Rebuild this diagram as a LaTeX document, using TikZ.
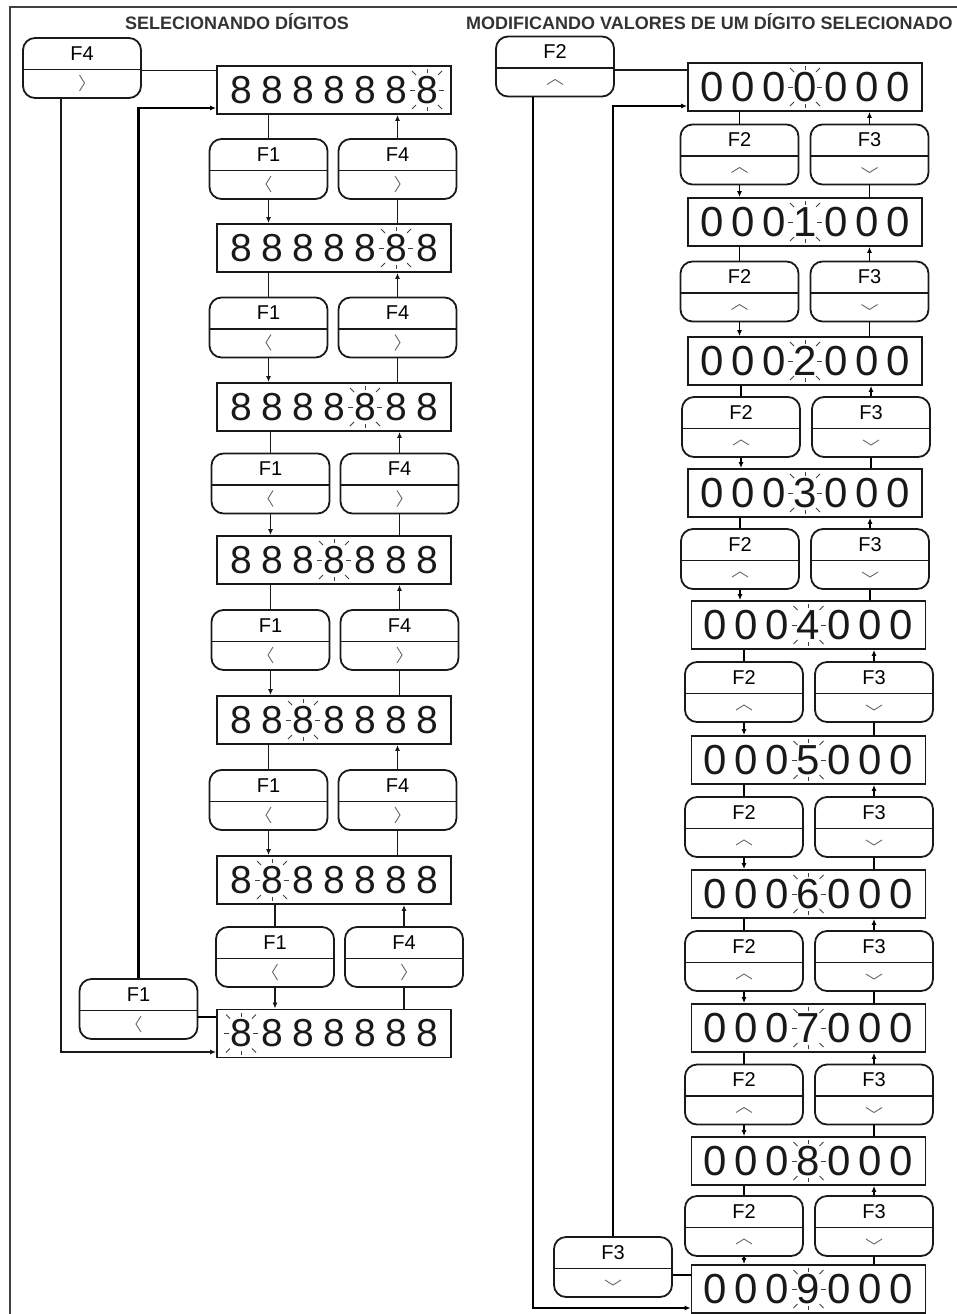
\documentclass[tikz,border=0pt]{standalone}
\usepackage{fontspec}
\setmainfont{Liberation Sans}
\usetikzlibrary{arrows.meta,calc}
\tikzset{
  disp/.style={draw=black!90, line width=1.8pt, minimum width=234pt, minimum height=48pt, inner sep=0pt},
  btn/.style={draw=black!90, line width=1.8pt, rounded corners=12pt, minimum width=118pt, minimum height=60pt, inner sep=0pt},
  lbl/.style={font=\fontsize{20}{20}\selectfont, inner sep=0pt, text=black},
  digL/.style={font=\fontsize{39}{39}\selectfont, inner sep=0pt, text=black!90},
  digR/.style={font=\fontsize{42}{42}\selectfont, inner sep=0pt, text=black!90},
  ln/.style={line width=1.3pt, draw=black!90},
  lnr/.style={line width=1.9pt, draw=black},
  thk/.style={line width=2.6pt, draw=black},
  arr/.style={-{Latex[length=6pt,width=5pt]}},
  chev/.style={line width=0.9pt, draw=black!60},
  ray/.style={line width=1pt, draw=black!75},
  ttl/.style={font=\bfseries\fontsize{18}{18}\selectfont, inner sep=0pt, text=black!80},
  pics/chevl/.style={code={\draw[chev] (2.5,-8) -- (-2.5,0) -- (2.5,8);}},
  pics/chevr/.style={code={\draw[chev] (-2.5,-8) -- (2.5,0) -- (-2.5,8);}},
  pics/chevu/.style={code={\draw[chev] (-8,3) -- (0,-2) -- (8,3);}},
  pics/chevd/.style={code={\draw[chev] (-8,-2) -- (0,3) -- (8,-2);}}
}
\newcommand\mybtn[5]{%
  \node[btn] (#1) at (#2,#3) {};
  \draw[ln] ([yshift=-1.5pt]#1.west) -- ([yshift=-1.5pt]#1.east);
  \node[lbl] (#1-t) at ([yshift=14.5pt]#1.center) {#4};
  \pic at ([yshift=-15pt]#1.center) {#5};
}
\newcommand\mydisp[6]{%
  \node[disp] (#1) at (#2,#3) {};
  \foreach \dg [count=\ii] in {#4} {\node[#6] (#1-\ii) at ($(#1.center)+({(\ii-4)*31},0)$) {\dg};}
  \foreach \sx/\sy/\dx/\dy in {-12/0/-5/0, 12/0/5/0, 0/-17/0/-4, 0/17/0/4, -11/-15/-4/-4, 11/-15/4/-4, -11/15/-4/4, 11/15/4/4}
    {\draw[ray] ($(#1-#5.center)+(\sx,\sy)$) -- ++(\dx,\dy);}
}
\begin{document}
\begin{tikzpicture}[x=1pt,y=-1pt]
\useasboundingbox (0,0) rectangle (957,1314);
% frame
\draw[black!75, line width=1.2pt] (10,1314) -- (10,7) -- (957,7);
% titles
\node[ttl] (t1) at (237,22) {SELECIONANDO DÍGITOS};
\node[ttl, anchor=west] (t2) at (466,22) {MODIFICANDO VALORES DE UM DÍGITO SELECIONADO};

% ---------- left column ----------
\foreach \n/\yy/\b in {1/90/7, 2/248/6, 3/407/5, 4/560/4, 5/720/3, 6/880/2, 7/1033.5/1}
  {\mydisp{L\n}{334}{\yy}{8,8,8,8,8,8,8}{\b}{digL}}
\foreach \r/\yy/\xx in {1/169/268.5, 2/327.5/268.5, 3/483.5/270.5, 4/640/270.5, 5/800/268.5, 6/957/275}
  {\mybtn{LA\r}{\xx}{\yy}{F1}{chevl}
   \mybtn{LB\r}{\xx+129}{\yy}{F4}{chevr}}
\foreach \r [evaluate=\r as \s using int(\r+1)] in {1,...,6} {
  \draw[ln] (L\r.south -| LA\r) -- (LA\r.north);
  \draw[ln,arr] (LA\r.south) -- (L\s.north -| LA\r);
  \draw[ln] (L\s.north -| LB\r) -- (LB\r.south);
  \draw[ln,arr] (LB\r.north) -- (L\r.south -| LB\r);
}
\mybtn{TL4}{82}{68}{F4}{chevr}
\mybtn{BL1}{138.5}{1009}{F1}{chevl}
\draw[ln] ([yshift=-2.5pt]TL4.east) -- ([yshift=-2.5pt]TL4.east -| L1.west);
\coordinate (lc1) at (61,1052);
\draw[ln,arr] (TL4.south -| lc1) -- (lc1) -- (lc1 -| L7.west);
\draw[thk] ([yshift=-8pt]BL1.east) -- ([yshift=-8pt]BL1.east -| L7.west);
\coordinate (lc2) at (138.5,108);
\draw[thk,arr] (BL1.north) -- (lc2) -- (lc2 -| L1.west);

% ---------- right column ----------
\foreach \n/\yy/\xx in {0/87/805, 1/222/805, 2/361/805, 3/493/805, 4/625/808.5, 5/760/808.5, 6/894/808.5, 7/1028/808.5, 8/1161/808.5, 9/1289/808.5}
  {\mydisp{R\n}{\xx}{\yy}{0,0,0,\n,0,0,0}{4}{digR}}
\foreach \r/\yy/\xx in {0/154.5/739.5, 1/291.5/739.5, 2/427/741, 3/559/740, 4/692/744, 5/827/744, 6/961/744, 7/1094.5/744, 8/1226/744}
  {\mybtn{RA\r}{\xx}{\yy}{F2}{chevu}
   \mybtn{RB\r}{\xx+130}{\yy}{F3}{chevd}}
\foreach \r [evaluate=\r as \s using int(\r+1)] in {0,...,8} {
  \draw[lnr] (R\r.south -| RA\r) -- (RA\r.north);
  \draw[lnr,arr] (RA\r.south) -- (R\s.north -| RA\r);
  \draw[lnr] (R\s.north -| RB\r) -- (RB\r.south);
  \draw[lnr,arr] (RB\r.north) -- (R\r.south -| RB\r);
}
\mybtn{TR2}{555}{66.5}{F2}{chevu}
\mybtn{BR3}{613}{1267}{F3}{chevd}
\draw[ln] ([yshift=-3.5pt]TR2.east) -- ([yshift=-3.5pt]TR2.east -| R0.west);
\coordinate (rc1) at (533,1308);
\draw[thk,arr] (TR2.south -| rc1) -- (rc1) -- (rc1 -| R9.west);
\draw[thk] ([yshift=-8pt]BR3.east) -- ([yshift=-8pt]BR3.east -| R9.west);
\coordinate (rc2) at (613,106);
\draw[thk,arr] (BR3.north) -- (rc2) -- (rc2 -| R0.west);
\end{tikzpicture}
\end{document}
